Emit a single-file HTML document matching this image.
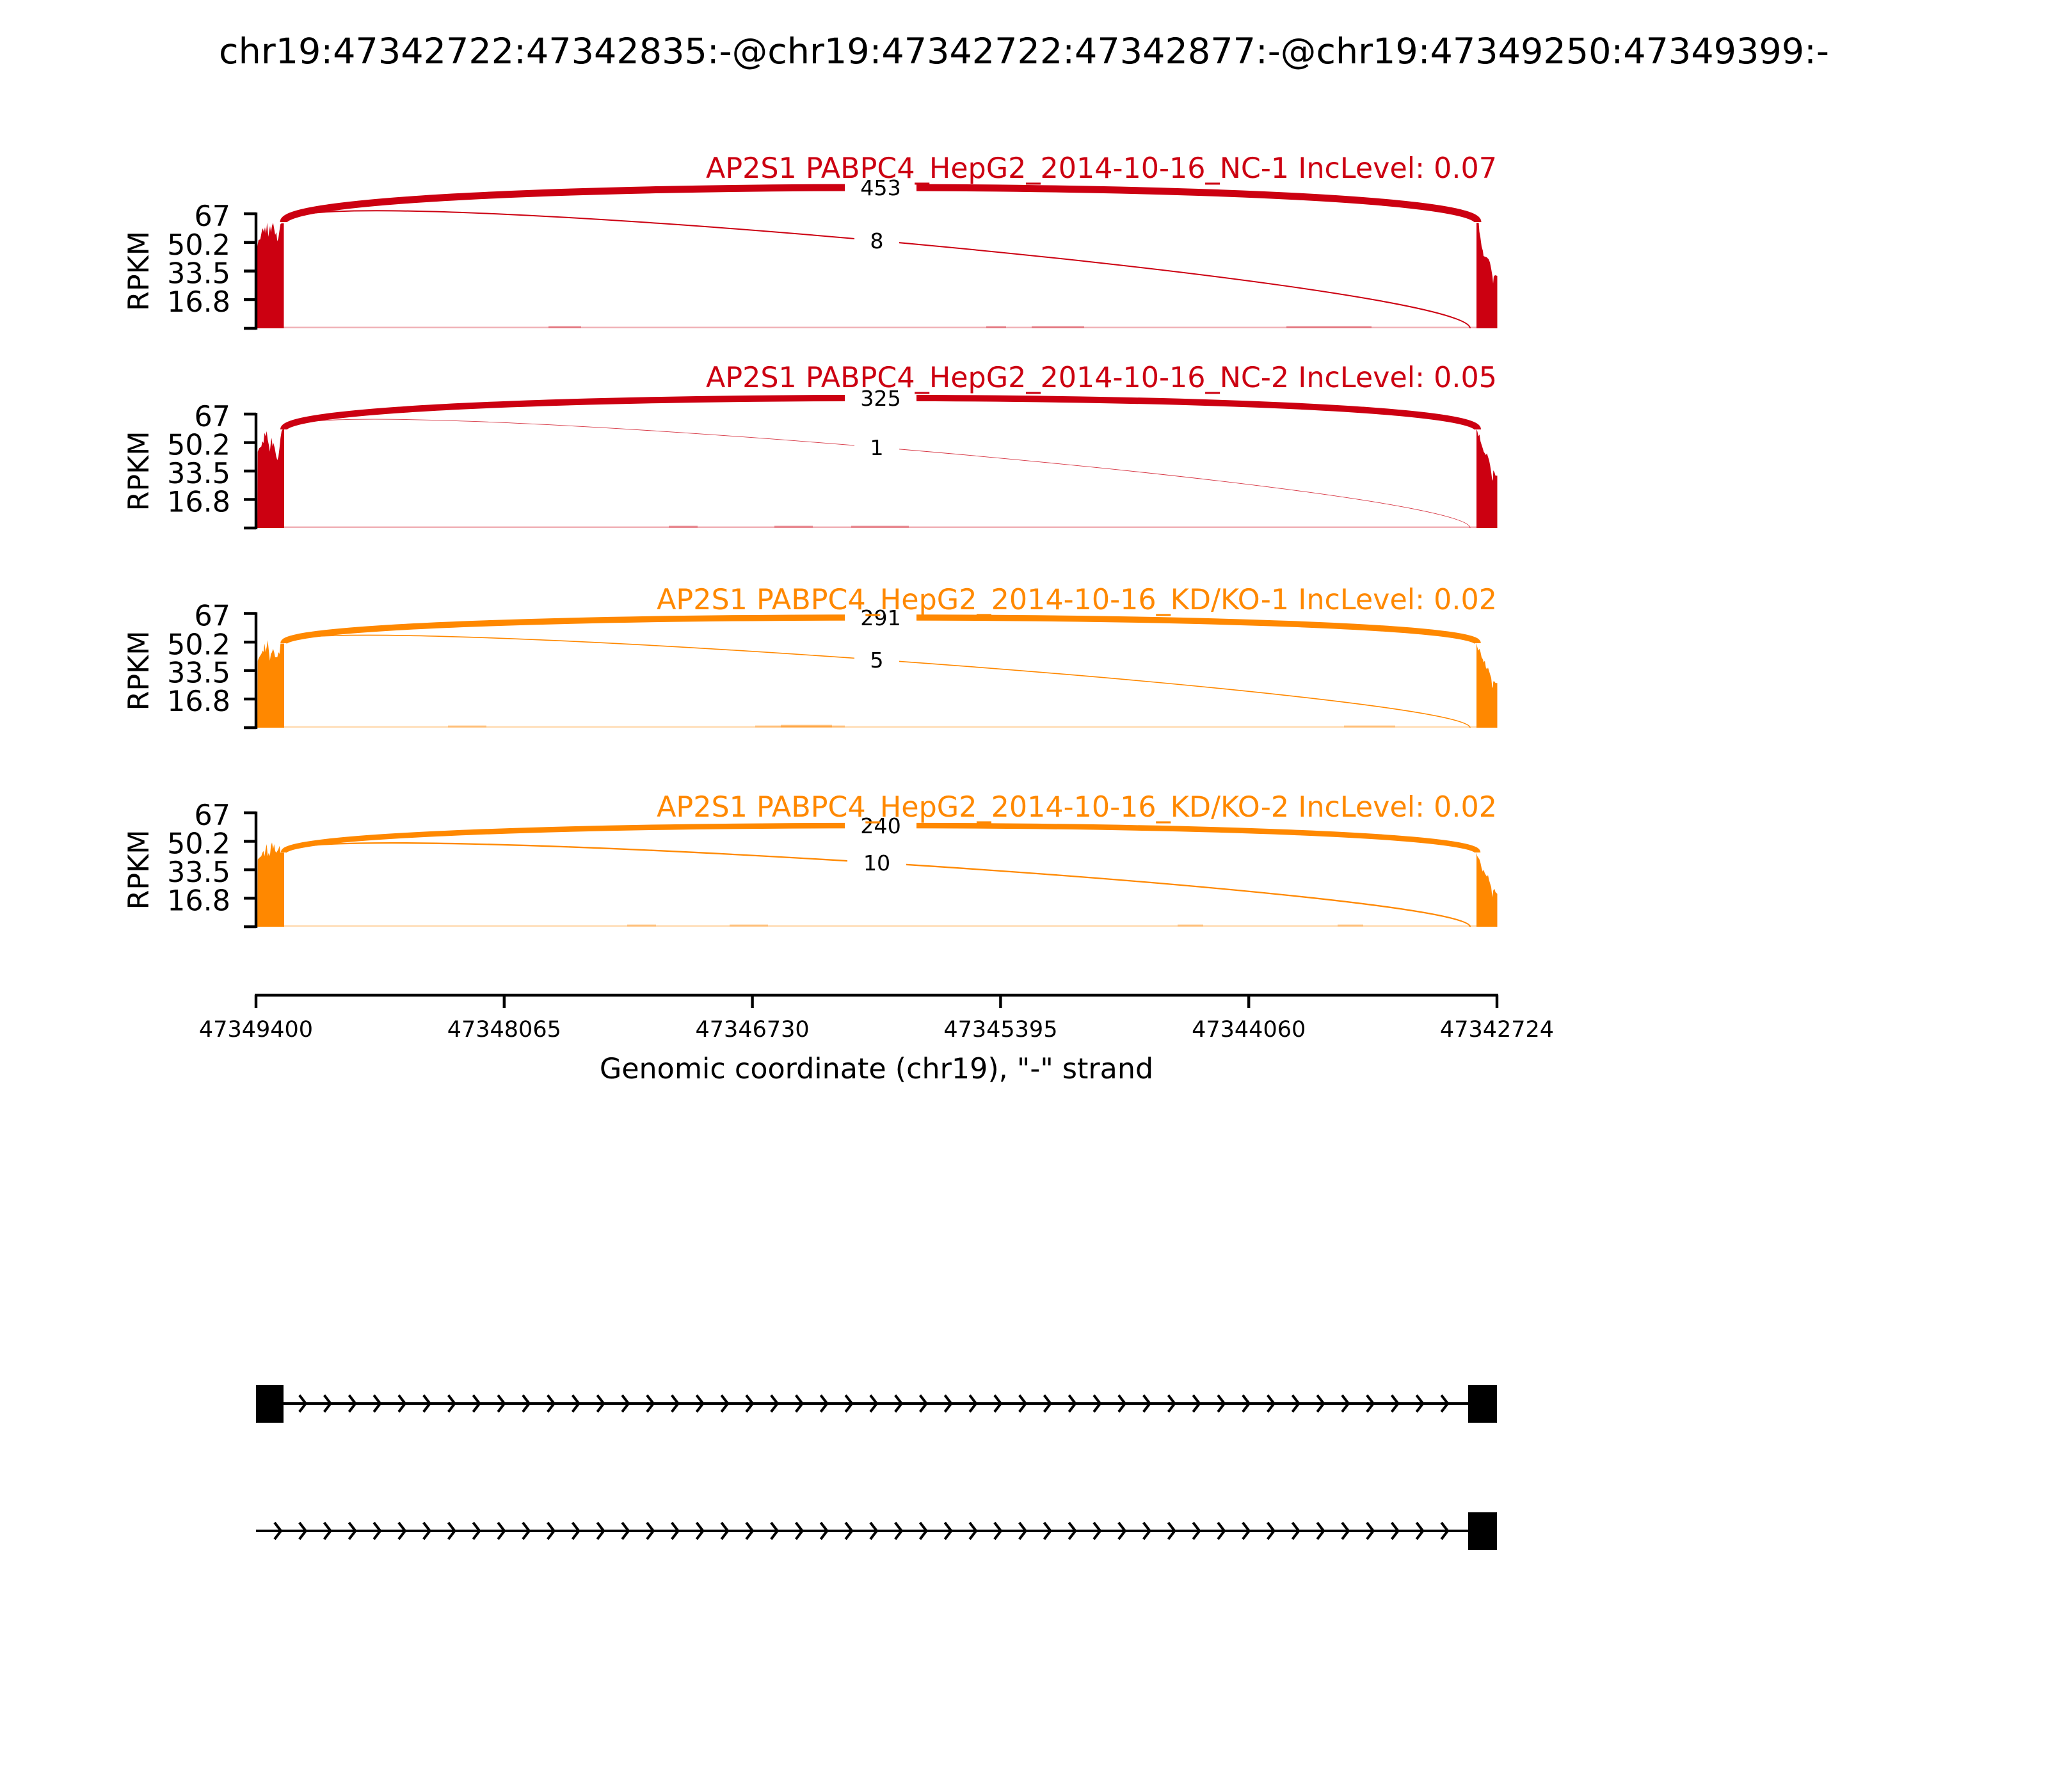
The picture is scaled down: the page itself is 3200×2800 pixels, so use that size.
<!DOCTYPE html>
<html><head><meta charset="utf-8"><style>
html,body{margin:0;padding:0;background:#fff;}
svg{display:block;}
text{font-family:"DejaVu Sans","Liberation Sans",sans-serif;}
</style></head><body>
<svg width="3200" height="2800" viewBox="0 0 3200 2800" xmlns="http://www.w3.org/2000/svg">
<rect width="3200" height="2800" fill="#fff"/>
<text x="1600" y="99" font-size="55.6" text-anchor="middle" fill="#000">chr19:47342722:47342835:-@chr19:47342722:47342877:-@chr19:47349250:47349399:-</text>

<!-- ===== Panel 1 ===== -->
<g>
<rect x="443" y="510.5" width="1864" height="2.5" fill="#CC0011" opacity="0.3"/>
<rect x="857" y="509.5" width="51" height="3" fill="#CC0011" opacity="0.35"/>
<rect x="1541" y="509.5" width="31" height="3" fill="#CC0011" opacity="0.35"/>
<rect x="1612" y="509.5" width="82" height="3" fill="#CC0011" opacity="0.35"/>
<rect x="2010" y="509.5" width="133" height="3" fill="#CC0011" opacity="0.35"/>
<polygon fill="#CC0011" points="402,513 402,385 404,375 406.7,374 409.3,360 410.7,356.7 412.3,363 414,355 415.7,365 417.3,348 419.3,370 420.7,360 422,353 423.3,363 425,353 426.7,348 428.3,357 430,367 431.7,363 433.3,377 435,372 436.7,360 438.3,350 440,349 443.5,349 443.5,513"/>
<polygon fill="#CC0011" points="2307,513 2307,348 2310.5,348 2311.5,362 2313,370 2315,385 2317,392 2318,400 2320,401 2323,402 2326,405 2328,410 2330,420 2332,432 2333,443 2334,432 2336,430 2339.5,431 2339.5,513"/>
<path d="M443,347 C443,275 2297,441 2297,513" fill="none" stroke="#CC0011" stroke-width="2"/>
<path d="M443,347 C443,275 2309,275 2309,347" fill="none" stroke="#CC0011" stroke-width="11"/>
<rect x="1320" y="253" width="112" height="80" fill="#fff"/>
<text x="1376" y="305" font-size="33.3" text-anchor="middle" fill="#000">453</text>
<rect x="1335" y="336" width="70" height="80" fill="#fff"/>
<text x="1370" y="388" font-size="33.3" text-anchor="middle" fill="#000">8</text>
<line x1="400" y1="332" x2="400" y2="515" stroke="#000" stroke-width="4.4"/>
<g stroke="#000" stroke-width="4.4">
<line x1="381" y1="334" x2="400" y2="334"/><line x1="381" y1="378.8" x2="400" y2="378.8"/><line x1="381" y1="423.5" x2="400" y2="423.5"/><line x1="381" y1="468.1" x2="400" y2="468.1"/><line x1="381" y1="513" x2="400" y2="513"/>
</g>
<g font-size="44.4" text-anchor="end" fill="#000">
<text x="360" y="353">67</text><text x="360" y="397.8">50.2</text><text x="360" y="442.5">33.5</text><text x="360" y="487.1">16.8</text>
</g>
<text transform="translate(232,423.5) rotate(-90)" font-size="44.4" text-anchor="middle" fill="#000">RPKM</text>
<text x="2339" y="278" font-size="44.4" text-anchor="end" fill="#CC0011">AP2S1 PABPC4_HepG2_2014-10-16_NC-1 IncLevel: 0.07</text>
</g>

<!-- ===== Panel 2 ===== -->
<g>
<rect x="443" y="822.5" width="1864" height="2.5" fill="#CC0011" opacity="0.3"/>
<rect x="1045" y="821.5" width="45" height="3" fill="#CC0011" opacity="0.35"/>
<rect x="1210" y="821.5" width="60" height="3" fill="#CC0011" opacity="0.35"/>
<rect x="1330" y="821.5" width="90" height="3" fill="#CC0011" opacity="0.35"/>
<polygon fill="#CC0011" points="402,825 402.7,705.7 405,700.3 408.3,697.7 410,689.6 411.7,692.3 413.3,676.2 415,681.6 416.7,673.6 418.3,687 420,695 421.7,705.7 423.3,689.6 424.3,684.3 426,697.7 427.3,692.3 429.3,700.3 431.7,713.7 433.3,719 435,713.7 436.7,700.3 438.3,684.3 440,673.6 441.7,670.9 444,670.9 444,825"/>
<polygon fill="#CC0011" points="2307,825 2307,670.9 2308.3,673.6 2310,681.6 2311.7,679 2313.3,689.6 2315,695 2316.7,700.3 2318.3,705.7 2320,708.4 2321.7,711 2323.3,708.4 2325,713.7 2326.7,719 2328.3,727 2330,737.8 2331.7,751.2 2332.7,748.5 2333.3,735 2335,737.8 2336.7,743.2 2339.5,743.2 2339.5,825"/>
<path d="M443,671 C443,605.5 2297,759.5 2297,825" fill="none" stroke="#CC0011" stroke-width="0.9" opacity="0.8"/>
<path d="M443,671 C443,605.5 2309,605.5 2309,671" fill="none" stroke="#CC0011" stroke-width="10"/>
<rect x="1320" y="582" width="112" height="80" fill="#fff"/>
<text x="1376" y="634" font-size="33.3" text-anchor="middle" fill="#000">325</text>
<rect x="1335" y="659" width="70" height="80" fill="#fff"/>
<text x="1370" y="711" font-size="33.3" text-anchor="middle" fill="#000">1</text>
<line x1="400" y1="645" x2="400" y2="827" stroke="#000" stroke-width="4.4"/>
<g stroke="#000" stroke-width="4.4">
<line x1="381" y1="647" x2="400" y2="647"/><line x1="381" y1="691.6" x2="400" y2="691.6"/><line x1="381" y1="736" x2="400" y2="736"/><line x1="381" y1="780.4" x2="400" y2="780.4"/><line x1="381" y1="825" x2="400" y2="825"/>
</g>
<g font-size="44.4" text-anchor="end" fill="#000">
<text x="360" y="666">67</text><text x="360" y="710.6">50.2</text><text x="360" y="755">33.5</text><text x="360" y="799.4">16.8</text>
</g>
<text transform="translate(232,736) rotate(-90)" font-size="44.4" text-anchor="middle" fill="#000">RPKM</text>
<text x="2339" y="605" font-size="44.4" text-anchor="end" fill="#CC0011">AP2S1 PABPC4_HepG2_2014-10-16_NC-2 IncLevel: 0.05</text>
</g>

<!-- ===== Panel 3 ===== -->
<g>
<rect x="443" y="1134.5" width="1864" height="2.5" fill="#FF8800" opacity="0.3"/>
<rect x="700" y="1133.5" width="60" height="3" fill="#FF8800" opacity="0.35"/>
<rect x="1180" y="1133.5" width="140" height="3" fill="#FF8800" opacity="0.35"/>
<rect x="1220" y="1132.5" width="80" height="4" fill="#FF8800" opacity="0.4"/>
<rect x="2100" y="1133.5" width="80" height="3" fill="#FF8800" opacity="0.35"/>
<polygon fill="#FF8800" points="402,1137 402.7,1032.4 405,1027 408.3,1021.7 410.7,1016.4 411.7,1019 413.3,1005.6 415,1019 416.7,1011 418.3,1000.3 420,1016.4 421.7,1032.4 423.3,1021.7 425,1019 426.7,1013.7 428.3,1019 430,1027 431.7,1027 433.3,1027 435,1019 436.7,1021.7 438.3,1005.6 440,1005.6 444,1005.6 444,1137"/>
<polygon fill="#FF8800" points="2307,1137 2307,1004.6 2308.3,1011 2310,1016.4 2311.7,1013.7 2313.3,1019 2315,1027 2316.7,1029.7 2318.3,1035 2320,1032.4 2321.7,1043 2323.3,1045.8 2325,1043 2326.7,1048.5 2328.3,1053.9 2330,1059.2 2331.7,1075.3 2332.7,1072.6 2333.3,1064.6 2335,1064.6 2336.7,1067.2 2339.5,1067.2 2339.5,1137"/>
<path d="M443,1005 C443,951.5 2297,1083.5 2297,1137" fill="none" stroke="#FF8800" stroke-width="1.6"/>
<path d="M443,1005 C443,951.5 2309,951.5 2309,1005" fill="none" stroke="#FF8800" stroke-width="9.5"/>
<rect x="1320" y="925" width="112" height="80" fill="#fff"/>
<text x="1376" y="977" font-size="33.3" text-anchor="middle" fill="#000">291</text>
<rect x="1335" y="991" width="70" height="80" fill="#fff"/>
<text x="1370" y="1043" font-size="33.3" text-anchor="middle" fill="#000">5</text>
<line x1="400" y1="956.5" x2="400" y2="1139" stroke="#000" stroke-width="4.4"/>
<g stroke="#000" stroke-width="4.4">
<line x1="381" y1="958.5" x2="400" y2="958.5"/><line x1="381" y1="1003.3" x2="400" y2="1003.3"/><line x1="381" y1="1047.7" x2="400" y2="1047.7"/><line x1="381" y1="1092.2" x2="400" y2="1092.2"/><line x1="381" y1="1137" x2="400" y2="1137"/>
</g>
<g font-size="44.4" text-anchor="end" fill="#000">
<text x="360" y="977.5">67</text><text x="360" y="1022.3">50.2</text><text x="360" y="1066.7">33.5</text><text x="360" y="1111.2">16.8</text>
</g>
<text transform="translate(232,1048) rotate(-90)" font-size="44.4" text-anchor="middle" fill="#000">RPKM</text>
<text x="2339" y="952" font-size="44.4" text-anchor="end" fill="#FF8800">AP2S1 PABPC4_HepG2_2014-10-16_KD/KO-1 IncLevel: 0.02</text>
</g>

<!-- ===== Panel 4 ===== -->
<g>
<rect x="443" y="1445.5" width="1864" height="2.5" fill="#FF8800" opacity="0.3"/>
<rect x="980" y="1444.5" width="45" height="3" fill="#FF8800" opacity="0.35"/>
<rect x="1140" y="1444.5" width="60" height="3" fill="#FF8800" opacity="0.35"/>
<rect x="1840" y="1444.5" width="40" height="3" fill="#FF8800" opacity="0.35"/>
<rect x="2090" y="1444.5" width="40" height="3" fill="#FF8800" opacity="0.35"/>
<polygon fill="#FF8800" points="402,1448 402.7,1343 405,1340.4 408.3,1337.7 410,1332.4 411.7,1329.7 413.3,1337.7 415,1327 416.7,1319 418.3,1337.7 420,1332.4 421.7,1337.7 423.3,1321.7 425,1316.3 426.7,1327 428.3,1319 430,1329.7 431.7,1332.4 433.3,1329.7 435,1327 436.7,1321.7 438.3,1332.4 440,1332.4 444,1332.4 444,1448"/>
<polygon fill="#FF8800" points="2307,1448 2307,1332.4 2308.3,1337.7 2310,1340.4 2311.7,1343 2313.3,1348.5 2315,1356.5 2316.7,1361.8 2318.3,1359 2320,1364.5 2321.7,1367.2 2323.3,1369.9 2325,1367.2 2326.7,1375.2 2328.3,1380.6 2330,1386 2331.7,1402 2333.3,1391.3 2335,1388.6 2336.7,1394 2339.5,1396.6 2339.5,1448"/>
<path d="M443,1332 C443,1276 2297,1392 2297,1448" fill="none" stroke="#FF8800" stroke-width="2.3"/>
<path d="M443,1332 C443,1276 2309,1276 2309,1332" fill="none" stroke="#FF8800" stroke-width="8.5"/>
<rect x="1320" y="1250" width="112" height="80" fill="#fff"/>
<text x="1376" y="1302" font-size="33.3" text-anchor="middle" fill="#000">240</text>
<rect x="1324" y="1309" width="92" height="80" fill="#fff"/>
<text x="1370" y="1360" font-size="33.3" text-anchor="middle" fill="#000">10</text>
<line x1="400" y1="1268" x2="400" y2="1450" stroke="#000" stroke-width="4.4"/>
<g stroke="#000" stroke-width="4.4">
<line x1="381" y1="1270" x2="400" y2="1270"/><line x1="381" y1="1314.6" x2="400" y2="1314.6"/><line x1="381" y1="1359" x2="400" y2="1359"/><line x1="381" y1="1403.4" x2="400" y2="1403.4"/><line x1="381" y1="1448" x2="400" y2="1448"/>
</g>
<g font-size="44.4" text-anchor="end" fill="#000">
<text x="360" y="1289">67</text><text x="360" y="1333.6">50.2</text><text x="360" y="1378">33.5</text><text x="360" y="1422.4">16.8</text>
</g>
<text transform="translate(232,1359) rotate(-90)" font-size="44.4" text-anchor="middle" fill="#000">RPKM</text>
<text x="2339" y="1276" font-size="44.4" text-anchor="end" fill="#FF8800">AP2S1 PABPC4_HepG2_2014-10-16_KD/KO-2 IncLevel: 0.02</text>
</g>

<!-- ===== X axis ===== -->
<g stroke="#000" stroke-width="4.4">
<line x1="398" y1="1555" x2="2341" y2="1555"/>
<line x1="400" y1="1555" x2="400" y2="1575"/>
<line x1="787.8" y1="1555" x2="787.8" y2="1575"/>
<line x1="1175.6" y1="1555" x2="1175.6" y2="1575"/>
<line x1="1563.4" y1="1555" x2="1563.4" y2="1575"/>
<line x1="1951.2" y1="1555" x2="1951.2" y2="1575"/>
<line x1="2339" y1="1555" x2="2339" y2="1575"/>
</g>
<g font-size="35" text-anchor="middle" fill="#000">
<text x="400" y="1620">47349400</text>
<text x="787.8" y="1620">47348065</text>
<text x="1175.6" y="1620">47346730</text>
<text x="1563.4" y="1620">47345395</text>
<text x="1951.2" y="1620">47344060</text>
<text x="2339" y="1620">47342724</text>
</g>
<text x="1369.5" y="1685" font-size="44.4" text-anchor="middle" fill="#000">Genomic coordinate (chr19), "-" strand</text>

<!-- ===== Gene structures ===== -->
<line x1="400" y1="2193" x2="2339" y2="2193" stroke="#000" stroke-width="4"/>
<path fill="none" stroke="#000" stroke-width="4" d="M429,2180 l10,13l-10,13m38.79,-26 l10,13l-10,13m38.79,-26 l10,13l-10,13m38.79,-26 l10,13l-10,13m38.79,-26 l10,13l-10,13m38.79,-26 l10,13l-10,13m38.79,-26 l10,13l-10,13m38.79,-26 l10,13l-10,13m38.79,-26 l10,13l-10,13m38.79,-26 l10,13l-10,13m38.79,-26 l10,13l-10,13m38.79,-26 l10,13l-10,13m38.79,-26 l10,13l-10,13m38.79,-26 l10,13l-10,13m38.79,-26 l10,13l-10,13m38.79,-26 l10,13l-10,13m38.79,-26 l10,13l-10,13m38.79,-26 l10,13l-10,13m38.79,-26 l10,13l-10,13m38.79,-26 l10,13l-10,13m38.79,-26 l10,13l-10,13m38.79,-26 l10,13l-10,13m38.79,-26 l10,13l-10,13m38.79,-26 l10,13l-10,13m38.79,-26 l10,13l-10,13m38.79,-26 l10,13l-10,13m38.79,-26 l10,13l-10,13m38.79,-26 l10,13l-10,13m38.79,-26 l10,13l-10,13m38.79,-26 l10,13l-10,13m38.79,-26 l10,13l-10,13m38.79,-26 l10,13l-10,13m38.79,-26 l10,13l-10,13m38.79,-26 l10,13l-10,13m38.79,-26 l10,13l-10,13m38.79,-26 l10,13l-10,13m38.79,-26 l10,13l-10,13m38.79,-26 l10,13l-10,13m38.79,-26 l10,13l-10,13m38.79,-26 l10,13l-10,13m38.79,-26 l10,13l-10,13m38.79,-26 l10,13l-10,13m38.79,-26 l10,13l-10,13m38.79,-26 l10,13l-10,13m38.79,-26 l10,13l-10,13m38.79,-26 l10,13l-10,13m38.79,-26 l10,13l-10,13m38.79,-26 l10,13l-10,13"/>
<rect x="400" y="2164" width="43" height="59" fill="#000"/>
<rect x="2294" y="2164" width="45" height="59" fill="#000"/>

<line x1="400" y1="2392" x2="2339" y2="2392" stroke="#000" stroke-width="4"/>
<path fill="none" stroke="#000" stroke-width="4" d="M429,2379 l10,13l-10,13m38.79,-26 l10,13l-10,13m38.79,-26 l10,13l-10,13m38.79,-26 l10,13l-10,13m38.79,-26 l10,13l-10,13m38.79,-26 l10,13l-10,13m38.79,-26 l10,13l-10,13m38.79,-26 l10,13l-10,13m38.79,-26 l10,13l-10,13m38.79,-26 l10,13l-10,13m38.79,-26 l10,13l-10,13m38.79,-26 l10,13l-10,13m38.79,-26 l10,13l-10,13m38.79,-26 l10,13l-10,13m38.79,-26 l10,13l-10,13m38.79,-26 l10,13l-10,13m38.79,-26 l10,13l-10,13m38.79,-26 l10,13l-10,13m38.79,-26 l10,13l-10,13m38.79,-26 l10,13l-10,13m38.79,-26 l10,13l-10,13m38.79,-26 l10,13l-10,13m38.79,-26 l10,13l-10,13m38.79,-26 l10,13l-10,13m38.79,-26 l10,13l-10,13m38.79,-26 l10,13l-10,13m38.79,-26 l10,13l-10,13m38.79,-26 l10,13l-10,13m38.79,-26 l10,13l-10,13m38.79,-26 l10,13l-10,13m38.79,-26 l10,13l-10,13m38.79,-26 l10,13l-10,13m38.79,-26 l10,13l-10,13m38.79,-26 l10,13l-10,13m38.79,-26 l10,13l-10,13m38.79,-26 l10,13l-10,13m38.79,-26 l10,13l-10,13m38.79,-26 l10,13l-10,13m38.79,-26 l10,13l-10,13m38.79,-26 l10,13l-10,13m38.79,-26 l10,13l-10,13m38.79,-26 l10,13l-10,13m38.79,-26 l10,13l-10,13m38.79,-26 l10,13l-10,13m38.79,-26 l10,13l-10,13m38.79,-26 l10,13l-10,13m38.79,-26 l10,13l-10,13m38.79,-26 l10,13l-10,13"/>
<rect x="2294" y="2363" width="45" height="59" fill="#000"/>
</svg>
</body></html>
